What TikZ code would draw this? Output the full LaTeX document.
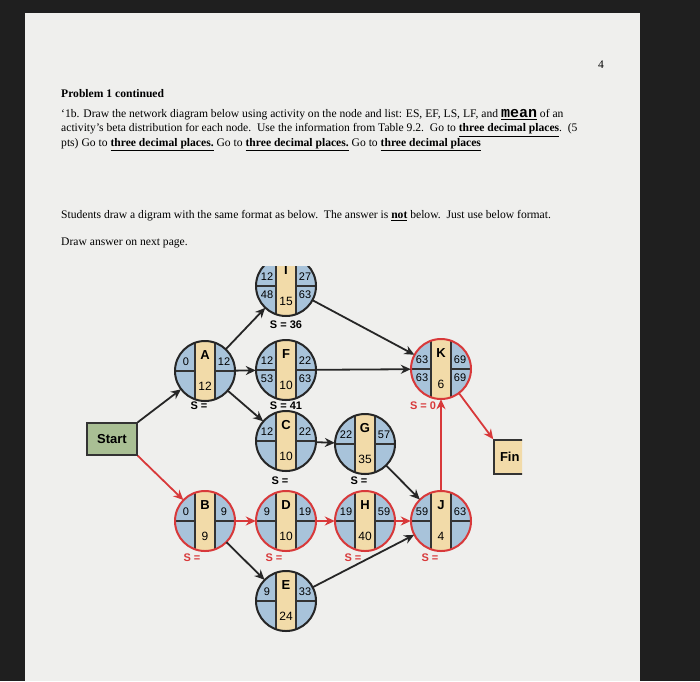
\documentclass[tikz,border=0pt]{standalone}
\usepackage{fontspec}
\setmainfont{Liberation Serif}
\setsansfont{Liberation Sans}
\usetikzlibrary{arrows.meta}
\definecolor{nblue}{HTML}{A8C3DA}
\definecolor{ntan}{HTML}{F2DBA9}
\definecolor{nred}{HTML}{D8393A}
\definecolor{sgreen}{HTML}{A9BF94}
\definecolor{page}{HTML}{EFEFED}
\tikzset{
 actc/.style={circle,minimum size=60pt,inner sep=0pt,fill=nblue},
 blk/.style={-{Stealth[length=10pt,width=9pt]},line width=1.8pt,black!85},
 crit/.style={-{Stealth[length=10pt,width=9pt]},line width=1.8pt,nred},
 num/.style={font=\sffamily\fontsize{11}{11}\selectfont,inner sep=0pt},
 txt/.style={anchor=west,inner sep=0pt,font=\fontsize{11.6}{12}\selectfont},
 slab/.style={font=\sffamily\bfseries\fontsize{11}{11}\selectfont,inner sep=0pt},
 boxn/.style={draw=black!80,line width=1.5pt,font=\sffamily\bfseries\fontsize{13}{13}\selectfont,inner sep=0pt}
}
\newcommand\actnode[9]{%
 \node[actc] (#1) at #2 {};
 \begin{scope}[shift={(#1.center)}]
  \clip (0,0) circle (30pt);
  \fill[ntan] (-10pt,-31pt) rectangle (10pt,31pt);
  \draw[line width=1.1pt,black!80] (-10pt,-31pt) -- (-10pt,31pt) (10pt,-31pt) -- (10pt,31pt)
     (-31pt,0) -- (-10pt,0) (10pt,0) -- (31pt,0);
 \end{scope}
 \draw[line width=2pt,#9] (#1.center) circle (30pt);
 \node[num,font=\sffamily\bfseries\fontsize{13}{13}\selectfont] at ([yshift=16pt]#1.center) {#3};
 \node[num,font=\sffamily\fontsize{12}{12}\selectfont] at ([yshift=-15pt]#1.center) {#4};
 \node[num] at ([xshift=-19pt,yshift=9pt]#1.center) {#5};
 \node[num] at ([xshift=19pt,yshift=9pt]#1.center) {#6};
 \node[num] at ([xshift=-19pt,yshift=-9pt]#1.center) {#7};
 \node[num] at ([xshift=19pt,yshift=-9pt]#1.center) {#8};
}
\begin{document}
\begin{tikzpicture}[x=1pt,y=1pt]
\fill[black!88] (0,0) rectangle (700,-681);
\fill[page] (25,-13) rectangle (640,-681);
\node[txt,anchor=east] (pg) at (604,-65) {4};
\node[txt,font=\bfseries\fontsize{11.6}{12}\selectfont] (t0) at (61,-94) {Problem 1 continued};
\node[txt] (t1) at (61,-115) {‘1b. Draw the network diagram below using activity on the node and list: ES, EF, LS, LF, and \underline{{\fontspec{Liberation Mono}\bfseries\fontsize{15}{15}\selectfont mean}} of an};
\node[txt] (t2) at (61,-130) {activity’s beta distribution for each node.\enspace Use the information from Table 9.2.\enspace Go to \underline{\textbf{three decimal places}}.\enspace(5};
\node[txt] (t3) at (61,-145) {pts) Go to \underline{\textbf{three decimal places.}} Go to \underline{\textbf{three decimal places.}} Go to \underline{\textbf{three decimal places}}};
\node[txt] (t4) at (61,-216) {Students draw a digram with the same format as below.\enspace The answer is \underline{\textbf{not}} below.\enspace Just use below format.};
\node[txt] (t5) at (61,-243) {Draw answer on next page.};
\begin{scope}
\clip (80,-266) rectangle (522,-632);
\node[boxn,fill=ntan,minimum width=40pt,minimum height=34pt,text width=36pt,align=left] (fin) at (514,-457) {\hspace{4pt}Fin};
\node[boxn,fill=sgreen,minimum width=50pt,minimum height=32pt] (start) at (112,-439) {Start};
\actnode{A}{(205,-371)}{A}{12}{0}{12}{}{}{black!85}
\actnode{I}{(286,-286)}{I}{15}{12}{27}{48}{63}{black!85}
\actnode{F}{(286,-370)}{F}{10}{12}{22}{53}{63}{black!85}
\actnode{K}{(441,-369)}{K}{6}{63}{69}{63}{69}{nred}
\actnode{C}{(286,-441)}{C}{10}{12}{22}{}{}{black!85}
\actnode{G}{(365,-444)}{G}{35}{22}{57}{}{}{black!85}
\actnode{B}{(205,-521)}{B}{9}{0}{9}{}{}{nred}
\actnode{D}{(286,-521)}{D}{10}{9}{19}{}{}{nred}
\actnode{H}{(365,-521)}{H}{40}{19}{59}{}{}{nred}
\actnode{J}{(441,-521)}{J}{4}{59}{63}{}{}{nred}
\actnode{E}{(286,-601)}{E}{24}{9}{33}{}{}{black!85}
\node[slab] (sI) at (286,-325) {S = 36};
\node[slab] (sA) at (199,-406) {S =};
\node[slab] (sF) at (286,-406) {S = 41};
\node[slab,text=nred] (sK) at (423,-406) {S = 0};
\node[slab] (sC) at (280,-481) {S =};
\node[slab] (sG) at (359,-481) {S =};
\node[slab,text=nred] (sB) at (192,-558) {S =};
\node[slab,text=nred] (sD) at (274,-558) {S =};
\node[slab,text=nred] (sH) at (353,-558) {S =};
\node[slab,text=nred] (sJ) at (430,-558) {S =};
\draw[blk] (start.north east) -- (A);
\draw[crit] (start.south east) -- (B);
\draw[blk] (A) -- (I);
\draw[blk] (A) -- (F);
\draw[blk] (A) -- (C);
\draw[blk] (I) -- (K);
\draw[blk] (F) -- (K);
\draw[blk] (C) -- (G);
\draw[blk] (G) -- (J);
\draw[crit] (B) -- (D);
\draw[crit] (D) -- (H);
\draw[crit] (H) -- (J);
\draw[blk] (B) -- (E);
\draw[blk] (E) -- (J);
\draw[crit] (J.north) -- (K.south);
\draw[crit] (K) -- (fin.north west);
\end{scope}
\end{tikzpicture}
\end{document}
